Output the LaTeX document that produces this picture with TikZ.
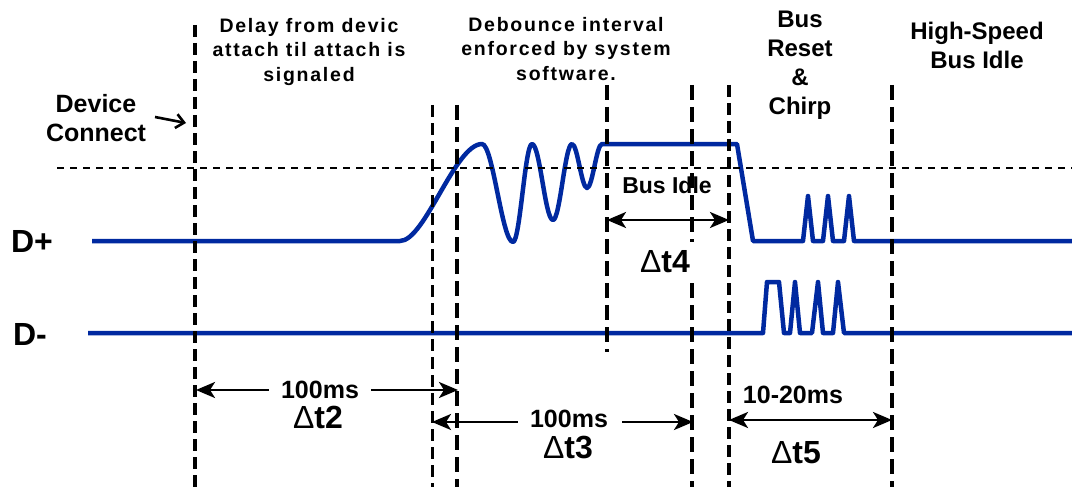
\documentclass[tikz,border=0pt]{standalone}
\usepackage{fontspec}
\setmainfont{Liberation Sans}
\newfontfamily\spacedfont{Liberation Sans}[LetterSpace=9]
\usetikzlibrary{arrows.meta}
\definecolor{sigblue}{RGB}{0,41,160}
\tikzset{
  sig/.style={draw=sigblue, line width=4.5pt, line join=round},
  thinv/.style={line width=3.4pt, dash pattern=on 12pt off 6pt},
  thickv/.style={line width=4.4pt, dash pattern=on 15pt off 7pt},
  hdot/.style={line width=2.4pt, dash pattern=on 7pt off 6pt},
  dimone/.style={line width=2.8pt, -{Stealth[length=19pt,width=16pt,inset=5pt]}},
  dimtwo/.style={line width=2.8pt, {Stealth[length=19pt,width=16pt,inset=5pt]}-{Stealth[length=19pt,width=16pt,inset=5pt]}},
  txt/.style={inner sep=0pt, font=\bfseries\fontsize{25}{29}\selectfont},
  small/.style={inner sep=0pt, align=center, font=\spacedfont\bfseries\fontsize{19.5}{24.5}\selectfont},
  mid/.style={inner sep=0pt, align=center, font=\bfseries\fontsize{24}{28.8}\selectfont},
  big/.style={inner sep=0pt, font=\bfseries\fontsize{32}{36}\selectfont},
}
\newcommand{\dlt}{{\mdseries Δ}}
\begin{document}
\begin{tikzpicture}[x=1pt,y=-1pt]
\useasboundingbox (0,0) rectangle (1072,487);
% signals
\draw[sig] (92,241) -- (400,241)
  .. controls (425,241) and (455,144) .. (482,144)
  .. controls (493,144) and (502,242) .. (513,242)
  .. controls (520,242) and (525,144) .. (532,144)
  .. controls (540,144) and (545,220) .. (553,220)
  .. controls (560,220) and (565,144) .. (572,144)
  .. controls (577.5,144) and (581.5,188) .. (587,188)
  .. controls (592.5,188) and (596.5,144) .. (602,144)
  -- (737,144) -- (753,241) -- (803,241) -- (808,196) -- (813,241)
  -- (823,241) -- (828,196) -- (833,241) -- (844,241) -- (849,196)
  -- (854,241) -- (1072,241);
\draw[sig] (88,333) -- (763,333) -- (767,282) -- (779,282) -- (784,333)
  -- (790,333) -- (795,282) -- (800,333) -- (812,333) -- (818,282)
  -- (823,333) -- (833,333) -- (838,282) -- (844,333) -- (1072,333);
% reference lines
\draw[hdot] (57,168) -- (1072,168);
\draw[thinv] (195,25) -- (195,487);
\draw[thinv, line width=3pt] (432,105) -- (432,487);
\draw[thickv] (457,105) -- (457,487);
\draw[thickv] (607,85) -- (607,352);
\draw[thickv, line width=3.8pt] (692,85) -- (692,242);
\draw[thickv, line width=3.8pt] (692,283) -- (692,487);
\draw[thinv] (729,85) -- (729,487);
\draw[thickv] (892,85) -- (892,487);
% labels
\node[big, anchor=base] (dp) at (32,252) {D+};
\node[big, anchor=base] (dm) at (30,345) {D-};
\node[small, anchor=north] (delay) at (309,18) {Delay from devic\\attach til attach is\\signaled};
\node[small, anchor=north] (deb) at (566,17) {Debounce interval\\enforced by system\\software.};
\node[mid, anchor=north] (reset) at (800,11) {Bus\\Reset\\\&\\Chirp};
\node[mid, anchor=north] (hs) at (977,22) {High-Speed\\Bus Idle};
\node[txt, align=center, anchor=north] (dev) at (96,94) {Device\\Connect};
\coordinate (devtip) at (186,123);
\draw[line width=2.6pt, -{Straight Barb[length=8pt,width=14pt]}] (155,117) -- (devtip);
% dt2
\node[txt, anchor=base] (ms2) at (320,398) {100ms};
\node[big, anchor=base] (t2) at (318,428) {\dlt t2};
\coordinate (t2a) at (196,390); \coordinate (t2b) at (458,390);
\draw[dimone] ([xshift=-12pt]ms2.west |- t2a) -- (t2a);
\draw[dimone] ([xshift=12pt]ms2.east |- t2b) -- (t2b);
% dt3
\node[txt, anchor=base] (ms3) at (569,427) {100ms};
\node[big, anchor=base] (t3) at (568,458) {\dlt t3};
\coordinate (t3a) at (432,422); \coordinate (t3b) at (693,422);
\draw[dimone] ([xshift=-12pt]ms3.west |- t3a) -- (t3a);
\draw[dimone] ([xshift=14pt]ms3.east |- t3b) -- (t3b);
% dt4
\node[txt, font=\bfseries\fontsize{23}{27}\selectfont, anchor=base] (idle) at (667,193) {Bus Idle};
\node[big, anchor=base] (t4) at (665,272) {\dlt t4};
\coordinate (t4a) at (607,220); \coordinate (t4b) at (729,220);
\draw[dimtwo] (t4a) -- (t4b);
% dt5
\node[txt, anchor=base] (ms5) at (793,403) {10-20ms};
\node[big, anchor=base] (t5) at (796,463) {\dlt t5};
\coordinate (t5a) at (729,420); \coordinate (t5b) at (892,420);
\draw[dimtwo] (t5a) -- (t5b);
\end{tikzpicture}
\end{document}
